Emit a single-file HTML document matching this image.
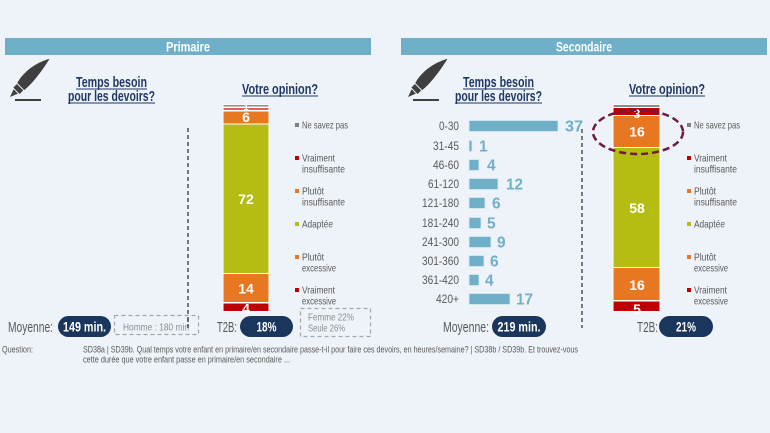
<!DOCTYPE html>
<html><head><meta charset="utf-8"><style>
html,body{margin:0;padding:0;background:#eef2f9;}
svg{display:block;font-family:"Liberation Sans",sans-serif;}
</style></head><body>
<svg width="770" height="433" viewBox="0 0 770 433" xmlns="http://www.w3.org/2000/svg">
<rect width="770" height="433" fill="#eef2f9"/>

<!-- Headers -->
<rect x="5" y="38" width="366" height="17" fill="#6fb0c8"/>
<text x="188" y="51.5" fill="#fff" font-size="13.5" font-weight="bold" text-anchor="middle" textLength="44" lengthAdjust="spacingAndGlyphs">Primaire</text>
<rect x="401" y="38" width="366" height="17" fill="#6fb0c8"/>
<text x="584" y="51.5" fill="#fff" font-size="13.5" font-weight="bold" text-anchor="middle" textLength="56" lengthAdjust="spacingAndGlyphs">Secondaire</text>

<!-- Pen icons -->
<g fill="#3f3f3f">
  <g transform="translate(10,97) rotate(-44)">
    <path d="M0,0 L8,-3 L8,3 Z"/>
    <rect x="9" y="-4.5" width="5" height="9"/>
    <path d="M15,-5 C26,-8.5 41,-7.5 55,0 C41,3.5 26,6 15,5 Z"/>
  </g>
  <rect x="15" y="99" width="26" height="2"/>
  <g transform="translate(408,97) rotate(-44)">
    <path d="M0,0 L8,-3 L8,3 Z"/>
    <rect x="9" y="-4.5" width="5" height="9"/>
    <path d="M15,-5 C26,-8.5 41,-7.5 55,0 C41,3.5 26,6 15,5 Z"/>
  </g>
  <rect x="413" y="99" width="26" height="2"/>
</g>

<!-- Titles -->
<g fill="#1f3864" font-size="15" font-weight="bold">
  <text x="76" y="87" textLength="71" lengthAdjust="spacingAndGlyphs">Temps besoin</text>
  <text x="68" y="101" textLength="87" lengthAdjust="spacingAndGlyphs">pour les devoirs?</text>
  <text x="242" y="94" textLength="76" lengthAdjust="spacingAndGlyphs">Votre opinion?</text>
  <text x="463" y="87" textLength="71" lengthAdjust="spacingAndGlyphs">Temps besoin</text>
  <text x="455" y="101" textLength="87" lengthAdjust="spacingAndGlyphs">pour les devoirs?</text>
  <text x="629" y="94" textLength="76" lengthAdjust="spacingAndGlyphs">Votre opinion?</text>
</g>
<g fill="#1f3864">
  <rect x="76" y="88.5" width="71" height="1"/>
  <rect x="68" y="102.5" width="87" height="1"/>
  <rect x="242" y="95.5" width="76" height="1"/>
  <rect x="463" y="88.5" width="71" height="1"/>
  <rect x="455" y="102.5" width="87" height="1"/>
  <rect x="629" y="95.5" width="76" height="1"/>
</g>

<!-- Dashed vertical lines -->
<line x1="188" y1="128" x2="188" y2="328" stroke="#595959" stroke-width="1.6" stroke-dasharray="4,3"/>
<line x1="582" y1="129" x2="582" y2="328" stroke="#595959" stroke-width="1.6" stroke-dasharray="4,3"/>

<!-- Primaire stacked bar -->
<g stroke="#fff" stroke-width="1">
  <rect x="223" y="104.5" width="46" height="2.5" fill="#8c8c8c"/>
  <rect x="223" y="107.5" width="46" height="3" fill="#e06060"/>
  <rect x="223" y="111" width="46" height="13" fill="#e87722"/>
  <rect x="223" y="124" width="46" height="149.5" fill="#b5bd12"/>
  <rect x="223" y="273.5" width="46" height="29" fill="#e87722"/>
  <rect x="223" y="303" width="46" height="8.5" fill="#c00000"/>
</g>
<g fill="#fff" font-weight="bold" text-anchor="middle">
  <text x="246" y="110" font-size="9">1</text>
  <text x="246" y="122" font-size="14">6</text>
  <text x="246" y="204" font-size="14">72</text>
  <text x="246" y="293.5" font-size="14">14</text>
  <text x="246" y="313.5" font-size="14">4</text>
</g>

<!-- Secondaire stacked bar -->
<g stroke="#fff" stroke-width="1">
  <rect x="613" y="104.5" width="47" height="3" fill="#8c8c8c"/>
  <rect x="613" y="107.5" width="47" height="8" fill="#c00000"/>
  <rect x="613" y="115.5" width="47" height="32" fill="#e87722"/>
  <rect x="613" y="147.5" width="47" height="120" fill="#b5bd12"/>
  <rect x="613" y="267.5" width="47" height="33" fill="#e87722"/>
  <rect x="613" y="301" width="47" height="10.5" fill="#c00000"/>
</g>
<g fill="#fff" font-weight="bold" text-anchor="middle">
  <text x="637" y="118" font-size="12">3</text>
  <text x="637" y="136.5" font-size="14">16</text>
  <text x="637" y="213" font-size="14">58</text>
  <text x="637" y="290" font-size="14">16</text>
  <text x="637" y="314" font-size="14">5</text>
</g>
<ellipse cx="638" cy="132" rx="45" ry="22" fill="none" stroke="#6d1b46" stroke-width="2.5" stroke-dasharray="7,4"/>

<!-- Legends -->
<g font-size="10.5" fill="#595959">
  <g>
    <rect x="295" y="123" width="4" height="4" fill="#7f7f7f"/>
    <text x="302" y="128.5" textLength="46" lengthAdjust="spacingAndGlyphs">Ne savez pas</text>
    <rect x="295" y="156" width="4" height="4" fill="#c00000"/>
    <text x="302" y="161.5" textLength="33" lengthAdjust="spacingAndGlyphs">Vraiment</text>
    <text x="302" y="172.5" textLength="43" lengthAdjust="spacingAndGlyphs">insuffisante</text>
    <rect x="295" y="189" width="4" height="4" fill="#e87722"/>
    <text x="302" y="194.5" textLength="22" lengthAdjust="spacingAndGlyphs">Plutôt</text>
    <text x="302" y="205.5" textLength="43" lengthAdjust="spacingAndGlyphs">insuffisante</text>
    <rect x="295" y="222" width="4" height="4" fill="#b5bd12"/>
    <text x="302" y="227.5" textLength="31" lengthAdjust="spacingAndGlyphs">Adaptée</text>
    <rect x="295" y="255" width="4" height="4" fill="#e87722"/>
    <text x="302" y="260.5" textLength="22" lengthAdjust="spacingAndGlyphs">Plutôt</text>
    <text x="302" y="271.5" textLength="34" lengthAdjust="spacingAndGlyphs">excessive</text>
    <rect x="295" y="288" width="4" height="4" fill="#c00000"/>
    <text x="302" y="293.5" textLength="33" lengthAdjust="spacingAndGlyphs">Vraiment</text>
    <text x="302" y="304.5" textLength="34" lengthAdjust="spacingAndGlyphs">excessive</text>
  </g>
  <g transform="translate(392,0)">
    <rect x="295" y="123" width="4" height="4" fill="#7f7f7f"/>
    <text x="302" y="128.5" textLength="46" lengthAdjust="spacingAndGlyphs">Ne savez pas</text>
    <rect x="295" y="156" width="4" height="4" fill="#c00000"/>
    <text x="302" y="161.5" textLength="33" lengthAdjust="spacingAndGlyphs">Vraiment</text>
    <text x="302" y="172.5" textLength="43" lengthAdjust="spacingAndGlyphs">insuffisante</text>
    <rect x="295" y="189" width="4" height="4" fill="#e87722"/>
    <text x="302" y="194.5" textLength="22" lengthAdjust="spacingAndGlyphs">Plutôt</text>
    <text x="302" y="205.5" textLength="43" lengthAdjust="spacingAndGlyphs">insuffisante</text>
    <rect x="295" y="222" width="4" height="4" fill="#b5bd12"/>
    <text x="302" y="227.5" textLength="31" lengthAdjust="spacingAndGlyphs">Adaptée</text>
    <rect x="295" y="255" width="4" height="4" fill="#e87722"/>
    <text x="302" y="260.5" textLength="22" lengthAdjust="spacingAndGlyphs">Plutôt</text>
    <text x="302" y="271.5" textLength="34" lengthAdjust="spacingAndGlyphs">excessive</text>
    <rect x="295" y="288" width="4" height="4" fill="#c00000"/>
    <text x="302" y="293.5" textLength="33" lengthAdjust="spacingAndGlyphs">Vraiment</text>
    <text x="302" y="304.5" textLength="34" lengthAdjust="spacingAndGlyphs">excessive</text>
  </g>
</g>

<!-- Horizontal bars (Secondaire) -->
<g font-size="11.5" fill="#595959" text-anchor="end" lengthAdjust="spacingAndGlyphs">
  <text x="459" y="130" textLength="20" lengthAdjust="spacingAndGlyphs">0-30</text>
  <text x="459" y="150" textLength="26" lengthAdjust="spacingAndGlyphs">31-45</text>
  <text x="459" y="169" textLength="26" lengthAdjust="spacingAndGlyphs">46-60</text>
  <text x="459" y="188" textLength="31" lengthAdjust="spacingAndGlyphs">61-120</text>
  <text x="459" y="207" textLength="37" lengthAdjust="spacingAndGlyphs">121-180</text>
  <text x="459" y="227" textLength="37" lengthAdjust="spacingAndGlyphs">181-240</text>
  <text x="459" y="246" textLength="37" lengthAdjust="spacingAndGlyphs">241-300</text>
  <text x="459" y="265" textLength="37" lengthAdjust="spacingAndGlyphs">301-360</text>
  <text x="459" y="284" textLength="37" lengthAdjust="spacingAndGlyphs">361-420</text>
  <text x="459" y="303" textLength="23" lengthAdjust="spacingAndGlyphs">420+</text>
</g>
<g fill="#6fb0c8" stroke="#d9ecf3" stroke-width="0.8">
  <rect x="469" y="120.5" width="89" height="11"/>
  <rect x="469" y="140.5" width="3" height="11"/>
  <rect x="469" y="159.5" width="10" height="11"/>
  <rect x="469" y="178.5" width="29" height="11"/>
  <rect x="469" y="197.5" width="16" height="11"/>
  <rect x="469" y="217.5" width="12" height="11"/>
  <rect x="469" y="236.5" width="22" height="11"/>
  <rect x="469" y="255.5" width="15" height="11"/>
  <rect x="469" y="274.5" width="10" height="11"/>
  <rect x="469" y="293.5" width="41" height="11"/>
</g>
<g font-size="15.5" font-weight="bold" fill="#6fb0c8">
  <text x="565" y="131.5" textLength="18" lengthAdjust="spacingAndGlyphs">37</text>
  <text x="479" y="151.5">1</text>
  <text x="487" y="170.5">4</text>
  <text x="506" y="189.5" textLength="17" lengthAdjust="spacingAndGlyphs">12</text>
  <text x="492" y="208.5">6</text>
  <text x="487" y="228.5">5</text>
  <text x="497" y="247.5">9</text>
  <text x="490" y="266.5">6</text>
  <text x="485" y="285.5">4</text>
  <text x="516" y="304.5" textLength="17" lengthAdjust="spacingAndGlyphs">17</text>
</g>

<!-- Bottom row Primaire -->
<text x="8" y="332" font-size="15" fill="#595959" textLength="45" lengthAdjust="spacingAndGlyphs">Moyenne:</text>
<rect x="58" y="316" width="53" height="21" rx="10.5" fill="#1b365d"/>
<text x="84.5" y="331.5" font-size="14" font-weight="bold" fill="#fff" text-anchor="middle" textLength="43" lengthAdjust="spacingAndGlyphs">149 min.</text>
<rect x="114.5" y="315.5" width="84" height="19" fill="none" stroke="#a6a6a6" stroke-width="1.2" stroke-dasharray="4,3"/>
<text x="123" y="330.5" font-size="10.5" fill="#8c8c8c" textLength="66" lengthAdjust="spacingAndGlyphs">Homme : 180 min</text>
<line x1="188" y1="318" x2="188" y2="328" stroke="#595959" stroke-width="1.6" stroke-dasharray="4,3"/>

<text x="217" y="332" font-size="15" fill="#595959" textLength="20" lengthAdjust="spacingAndGlyphs">T2B:</text>
<rect x="240" y="316" width="53" height="21" rx="10.5" fill="#1b365d"/>
<text x="266.5" y="331.5" font-size="14" font-weight="bold" fill="#fff" text-anchor="middle" textLength="20" lengthAdjust="spacingAndGlyphs">18%</text>
<rect x="300.5" y="308.5" width="70" height="28" fill="none" stroke="#a6a6a6" stroke-width="1.2" stroke-dasharray="4,3"/>
<text x="308" y="320.5" font-size="10.5" fill="#8c8c8c" textLength="46" lengthAdjust="spacingAndGlyphs">Femme  22%</text>
<text x="308" y="331.5" font-size="10.5" fill="#8c8c8c" textLength="37" lengthAdjust="spacingAndGlyphs">Seule 26%</text>

<!-- Bottom row Secondaire -->
<text x="443" y="332" font-size="15" fill="#595959" textLength="46" lengthAdjust="spacingAndGlyphs">Moyenne:</text>
<rect x="492" y="316" width="54" height="21" rx="10.5" fill="#1b365d"/>
<text x="519" y="331.5" font-size="14" font-weight="bold" fill="#fff" text-anchor="middle" textLength="43" lengthAdjust="spacingAndGlyphs">219 min.</text>
<text x="637" y="332" font-size="15" fill="#595959" textLength="21" lengthAdjust="spacingAndGlyphs">T2B:</text>
<rect x="659" y="316" width="54" height="21" rx="10.5" fill="#1b365d"/>
<text x="686" y="331.5" font-size="14" font-weight="bold" fill="#fff" text-anchor="middle" textLength="20" lengthAdjust="spacingAndGlyphs">21%</text>

<!-- Question -->
<g font-size="9" fill="#595959">
  <text x="2" y="352.5" textLength="31" lengthAdjust="spacingAndGlyphs">Question:</text>
  <text x="83" y="352.5" textLength="495" lengthAdjust="spacingAndGlyphs">SD38a | SD39b. Qual temps votre enfant en primaire/en secondaire passe-t-il pour faire ces devoirs, en heures/semaine? | SD38b / SD39b. Et trouvez-vous</text>
  <text x="83" y="362.5" textLength="207" lengthAdjust="spacingAndGlyphs">cette durée que votre enfant passe en primaire/en secondaire  ...</text>
</g>
</svg>
</body></html>
